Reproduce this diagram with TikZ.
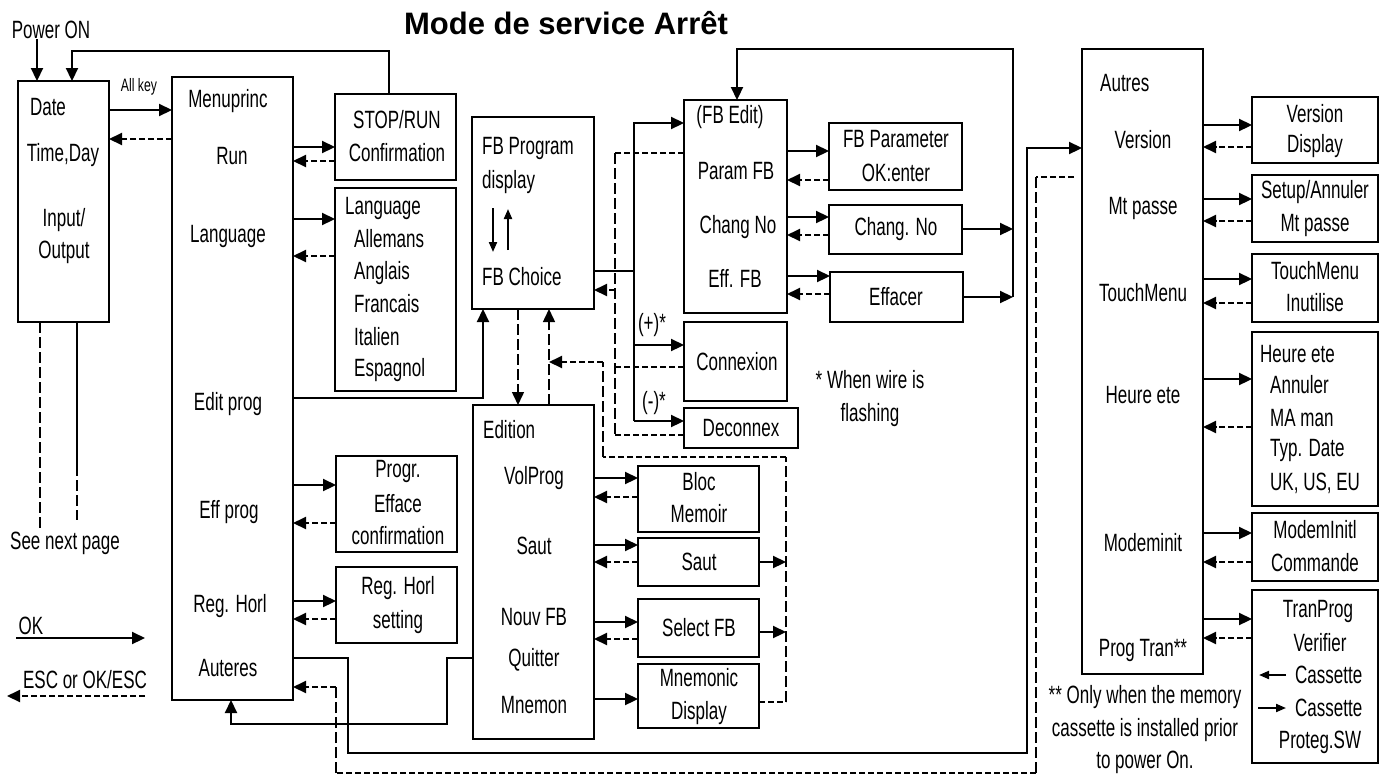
\documentclass[tikz,border=0pt]{standalone}
\usepackage{fontspec}
\setmainfont{Liberation Sans}[FakeStretch=0.68]
\newfontfamily\titlefont{Liberation Sans}
\usetikzlibrary{arrows.meta,calc}
\tikzset{
 box/.style={draw, line width=2.2pt, anchor=north west, inner sep=0pt, outer sep=0pt},
 txt/.style={inner sep=0pt, font=\fontsize{25}{30}\selectfont},
 ok/.style={line width=2.2pt, -{Triangle[length=13pt,width=12pt]}},
 okline/.style={line width=2.2pt},
 esc/.style={line width=2pt, dash pattern=on 6pt off 3pt, -{Triangle[length=13pt,width=12pt]}},
 escline/.style={line width=2pt, dash pattern=on 6pt off 3pt},
 vdash/.style={line width=1.5pt, dash pattern=on 11pt off 4pt},
 vesc/.style={vdash, -{Triangle[length=13pt,width=12pt]}},
 thinline/.style={line width=1.5pt},
 small/.style={line width=2pt, -{Triangle[length=10pt,width=8pt]}},
}
\begin{document}
\begin{tikzpicture}[x=1pt,y=-1pt]
\useasboundingbox (0,0) rectangle (1384,782);
% ---------- boxes
\node[box,minimum width=91pt,minimum height=241pt] (date) at (18,81) {};
\node[box,minimum width=121pt,minimum height=623pt] (menu) at (172,77) {};
\node[box,minimum width=121pt,minimum height=86pt] (stop) at (335,94) {};
\node[box,minimum width=121pt,minimum height=203pt] (lang) at (335,188) {};
\node[box,minimum width=121pt,minimum height=96pt] (progr) at (336,456) {};
\node[box,minimum width=121pt,minimum height=76pt] (reg) at (336,567) {};
\node[box,minimum width=122pt,minimum height=192pt] (fbp) at (472,117) {};
\node[box,minimum width=121pt,minimum height=334pt] (edit) at (473,405) {};
\node[box,minimum width=103pt,minimum height=213pt] (fbe) at (684,100) {};
\node[box,minimum width=103pt,minimum height=79pt] (conn) at (684,322) {};
\node[box,minimum width=114pt,minimum height=40pt] (decon) at (684,408) {};
\node[box,minimum width=133pt,minimum height=67pt] (fbpar) at (829,123) {};
\node[box,minimum width=133pt,minimum height=49pt] (chang) at (829,205) {};
\node[box,minimum width=133pt,minimum height=50pt] (eff) at (830,272) {};
\node[box,minimum width=121pt,minimum height=66pt] (bloc) at (638,466) {};
\node[box,minimum width=121pt,minimum height=48pt] (saut) at (638,538) {};
\node[box,minimum width=121pt,minimum height=58pt] (sel) at (638,599) {};
\node[box,minimum width=121pt,minimum height=64pt] (mnem) at (638,664) {};
\node[box,minimum width=121pt,minimum height=625pt] (autres) at (1082,49) {};
\node[box,minimum width=126pt,minimum height=66pt] (ver) at (1252,97) {};
\node[box,minimum width=126pt,minimum height=67pt] (mtp) at (1252,175) {};
\node[box,minimum width=126pt,minimum height=68pt] (touch) at (1252,254) {};
\node[box,minimum width=126pt,minimum height=174pt] (heure) at (1252,332) {};
\node[box,minimum width=126pt,minimum height=68pt] (modem) at (1252,513) {};
\node[box,minimum width=126pt,minimum height=173pt] (tran) at (1252,590) {};
% ---------- texts
\node[inner sep=0pt, font=\titlefont\bfseries\fontsize{31}{36}\selectfont] (title) at (566,23) {Mode de service Arrêt};
\node[txt] (power) at (51,30) {Power ON};
\node[txt, font=\fontsize{18}{20}\selectfont] (allkey) at (139,87) {All key};
\node[txt] (d1) at (48,107) {Date};
\node[txt] (d2) at (63,155) {Time,Day};
\node[txt] (d3) at (64,220) {Input/};
\node[txt] (d4) at (64,252) {Output};
\node[txt] (m1) at (228,101) {Menuprinc};
\node[txt] (m2) at (232,156) {Run};
\node[txt] (m3) at (228,236) {Language};
\node[txt] (m4) at (228,404) {Edit prog};
\node[txt] (m5) at (229,512) {Eff prog};
\node[txt] (m6) at (230,606) {Reg. Horl};
\node[txt] (m7) at (228,668) {Auteres};
\node[txt] (s1) at (397,120) {STOP/RUN};
\node[txt] (s2) at (397,153) {Confirmation};
\node[txt,anchor=west] (l1) at (345,208) {Language};
\node[txt,anchor=west] (l2) at (354,239) {Allemans};
\node[txt,anchor=west] (l3) at (354,273) {Anglais};
\node[txt,anchor=west] (l4) at (354,304) {Francais};
\node[txt,anchor=west] (l5) at (354,337) {Italien};
\node[txt,anchor=west] (l6) at (354,370) {Espagnol};
\node[txt] (p1) at (398,471) {Progr.};
\node[txt] (p2) at (398,504) {Efface};
\node[txt] (p3) at (398,536) {confirmation};
\node[txt] (r1) at (398,588) {Reg. Horl};
\node[txt] (r2) at (398,622) {setting};
\node[txt] (okl) at (31,626) {OK};
\node[txt] (escl) at (85,680) {ESC or OK/ESC};
\node[txt] (seenext) at (65,543) {See next page};
\node[txt,anchor=west] (f1) at (482,148) {FB Program};
\node[txt,anchor=west] (f2) at (482,182) {display};
\node[txt,anchor=west] (f3) at (482,277) {FB Choice};
\node[txt] (e1) at (730,117) {(FB Edit)};
\node[txt] (e2) at (736,171) {Param FB};
\node[txt] (e3) at (738,227) {Chang No};
\node[txt] (e4) at (735,278) {Eff. FB};
\node[txt] (c1) at (737,362) {Connexion};
\node[txt] (c2) at (741,428) {Deconnex};
\node[txt] (plus) at (652,325) {(+)*};
\node[txt] (minus) at (654,403) {(-)*};
\node[txt] (w1) at (870,380) {* When wire is};
\node[txt] (w2) at (870,415) {flashing};
\node[txt] (q1) at (896,139) {FB Parameter};
\node[txt] (q2) at (896,173) {OK:enter};
\node[txt] (q3) at (896,229) {Chang. No};
\node[txt] (q4) at (896,297) {Effacer};
\node[txt,anchor=west] (ed1) at (483,430) {Edition};
\node[txt] (ed2) at (534,478) {VolProg};
\node[txt] (ed3) at (534,546) {Saut};
\node[txt] (ed4) at (534,617) {Nouv FB};
\node[txt] (ed5) at (534,660) {Quitter};
\node[txt] (ed6) at (534,705) {Mnemon};
\node[txt] (b1) at (699,482) {Bloc};
\node[txt] (b2) at (699,514) {Memoir};
\node[txt] (b3) at (699,562) {Saut};
\node[txt] (b4) at (699,628) {Select FB};
\node[txt] (b5) at (699,678) {Mnemonic};
\node[txt] (b6) at (699,713) {Display};
\node[txt,anchor=west] (a1) at (1100,83) {Autres};
\node[txt] (a2) at (1143,140) {Version};
\node[txt] (a3) at (1143,208) {Mt passe};
\node[txt] (a4) at (1143,293) {TouchMenu};
\node[txt] (a5) at (1143,395) {Heure ete};
\node[txt] (a6) at (1143,543) {Modeminit};
\node[txt] (a7) at (1143,650) {Prog Tran**};
\node[txt] (v1) at (1315,114) {Version};
\node[txt] (v2) at (1315,146) {Display};
\node[txt] (v3) at (1315,192) {Setup/Annuler};
\node[txt] (v4) at (1315,225) {Mt passe};
\node[txt] (v5) at (1315,271) {TouchMenu};
\node[txt] (v6) at (1315,303) {Inutilise};
\node[txt,anchor=west] (h1) at (1260,354) {Heure ete};
\node[txt,anchor=west] (h2) at (1270,385) {Annuler};
\node[txt,anchor=west] (h3) at (1270,418) {MA man};
\node[txt,anchor=west] (h4) at (1270,450) {Typ. Date};
\node[txt,anchor=west] (h5) at (1270,483) {UK, US, EU};
\node[txt] (mo1) at (1315,530) {ModemInitl};
\node[txt] (mo2) at (1315,563) {Commande};
\node[txt] (t1) at (1318,611) {TranProg};
\node[txt] (t2) at (1320,643) {Verifier};
\node[txt,anchor=west] (t3) at (1295,675) {Cassette};
\node[txt,anchor=west] (t4) at (1295,708) {Cassette};
\node[txt] (t5) at (1320,742) {Proteg.SW};
\node[txt] (n1) at (1145,697) {** Only when the memory};
\node[txt] (n2) at (1145,730) {cassette is installed prior};
\node[txt] (n3) at (1145,762) {to power On.};
% ---------- symbol arrows inside boxes
\draw[small] (493,208) -- (493,252);
\draw[small] (508,250) -- (508,209);
\draw[small] (1286,0 |- t3.west) -- (1259,0 |- t3.west);
\draw[small] (1258,0 |- t4.west) -- (1286,0 |- t4.west);
% ---------- left part
\draw[ok] (37,0 |- power.south) -- (37,0 |- date.north);
\draw[ok] (389,0 |- stop.north) -- (389,51) -- (72,51) -- (72,0 |- date.north);
\draw[ok] (date.east |- 0,110) -- (menu.west |- 0,110);
\draw[esc] (menu.west |- 0,139) -- (date.east |- 0,139);
\draw[vdash] (40,0 |- date.south) -- (40,530);
\draw[thinline] (77,0 |- date.south) -- (77,465);
\draw[vdash] (77,465) -- (77,520);
\draw[ok] (16,638) -- (145,638);
\draw[esc] (145,696) -- (7,696);
\draw[ok] (menu.east |- 0,147) -- (stop.west |- 0,147);
\draw[esc] (stop.west |- 0,161) -- (menu.east |- 0,161);
\draw[ok] (menu.east |- 0,219) -- (lang.west |- 0,219);
\draw[esc] (lang.west |- 0,256) -- (menu.east |- 0,256);
\draw[ok] (menu.east |- 0,485) -- (progr.west |- 0,485);
\draw[esc] (progr.west |- 0,523) -- (menu.east |- 0,523);
\draw[ok] (menu.east |- 0,601) -- (reg.west |- 0,601);
\draw[esc] (reg.west |- 0,619) -- (menu.east |- 0,619);
\draw[ok] (menu.east |- 0,398) -- (483,398) -- (483,0 |- fbp.south);
% Auteres links
\draw[ok] (menu.east |- 0,658) -- (348,658) -- (348,753) -- (1027,753) -- (1027,148) -- (autres.west |- 0,148);
\draw[escline] ($(autres.west |- 0,177)+(-8,0)$) -- (1036,177);
\draw[vdash] (1036,177) -- (1036,773);
\draw[escline] (1036,773) -- (336,773);
\draw[vdash] (336,773) -- (336,687);
\draw[esc] (336,687) -- (menu.east |- 0,687);
% Quitter
\draw[ok] (edit.west |- 0,658) -- (447,658) -- (447,724) -- (231,724) -- (231,0 |- menu.south);
% ---------- FB part
\draw[okline] (fbp.east |- 0,271) -- (634,271);
\draw[ok] (634,421) -- (634,123) -- (fbe.west |- 0,123);
\draw[ok] (634,345) -- (conn.west |- 0,345);
\draw[ok] (634,421) -- (decon.west |- 0,421);
\draw[escline] (fbe.west |- 0,153) -- (615,153);
\draw[vdash] (615,153) -- (615,435);
\draw[escline] (615,435) -- (decon.west |- 0,435);
\draw[escline] (conn.west |- 0,367) -- (615,367);
\draw[esc] (615,290) -- (fbp.east |- 0,290);
\draw[vesc] (518,0 |- fbp.south) -- (518,0 |- edit.north);
\draw[vesc] (549,0 |- edit.north) -- (549,0 |- fbp.south);
\draw[escline] (mnem.east |- 0,702) -- (786,702);
\draw[vdash] (786,702) -- (786,457);
\draw[escline] (786,457) -- (603,457);
\draw[vdash] (603,457) -- (603,362);
\draw[esc] (603,362) -- (549,362);
\draw[ok] (saut.east |- 0,562) -- (786,562);
\draw[ok] (sel.east |- 0,632) -- (786,632);
% Edition links
\draw[ok] (edit.east |- 0,478) -- (bloc.west |- 0,478);
\draw[esc] (bloc.west |- 0,497) -- (edit.east |- 0,497);
\draw[ok] (edit.east |- 0,545) -- (saut.west |- 0,545);
\draw[esc] (saut.west |- 0,562) -- (edit.east |- 0,562);
\draw[ok] (edit.east |- 0,622) -- (sel.west |- 0,622);
\draw[esc] (sel.west |- 0,639) -- (edit.east |- 0,639);
\draw[ok] (edit.east |- 0,699) -- (mnem.west |- 0,699);
% FB Edit links
\draw[ok] (fbe.east |- 0,151) -- (fbpar.west |- 0,151);
\draw[esc] (fbpar.west |- 0,180) -- (fbe.east |- 0,180);
\draw[ok] (fbe.east |- 0,217) -- (chang.west |- 0,217);
\draw[esc] (chang.west |- 0,235) -- (fbe.east |- 0,235);
\draw[ok] (fbe.east |- 0,276) -- (eff.west |- 0,276);
\draw[esc] (eff.west |- 0,294) -- (fbe.east |- 0,294);
\draw[ok] (chang.east |- 0,229) -- (1013,229);
\draw[ok] (eff.east |- 0,297) -- (1013,297);
\draw[ok] (1013,297) -- (1013,49) -- (737,49) -- (737,0 |- fbe.north);
% ---------- Autres links
\draw[ok] (autres.east |- 0,125) -- (ver.west |- 0,125);
\draw[esc] (ver.west |- 0,147) -- (autres.east |- 0,147);
\draw[ok] (autres.east |- 0,199) -- (mtp.west |- 0,199);
\draw[esc] (mtp.west |- 0,221) -- (autres.east |- 0,221);
\draw[ok] (autres.east |- 0,279) -- (touch.west |- 0,279);
\draw[esc] (touch.west |- 0,303) -- (autres.east |- 0,303);
\draw[ok] (autres.east |- 0,379) -- (heure.west |- 0,379);
\draw[esc] (heure.west |- 0,427) -- (autres.east |- 0,427);
\draw[ok] (autres.east |- 0,533) -- (modem.west |- 0,533);
\draw[esc] (modem.west |- 0,562) -- (autres.east |- 0,562);
\draw[ok] (autres.east |- 0,619) -- (tran.west |- 0,619);
\draw[esc] (tran.west |- 0,638) -- (autres.east |- 0,638);
\end{tikzpicture}
\end{document}
